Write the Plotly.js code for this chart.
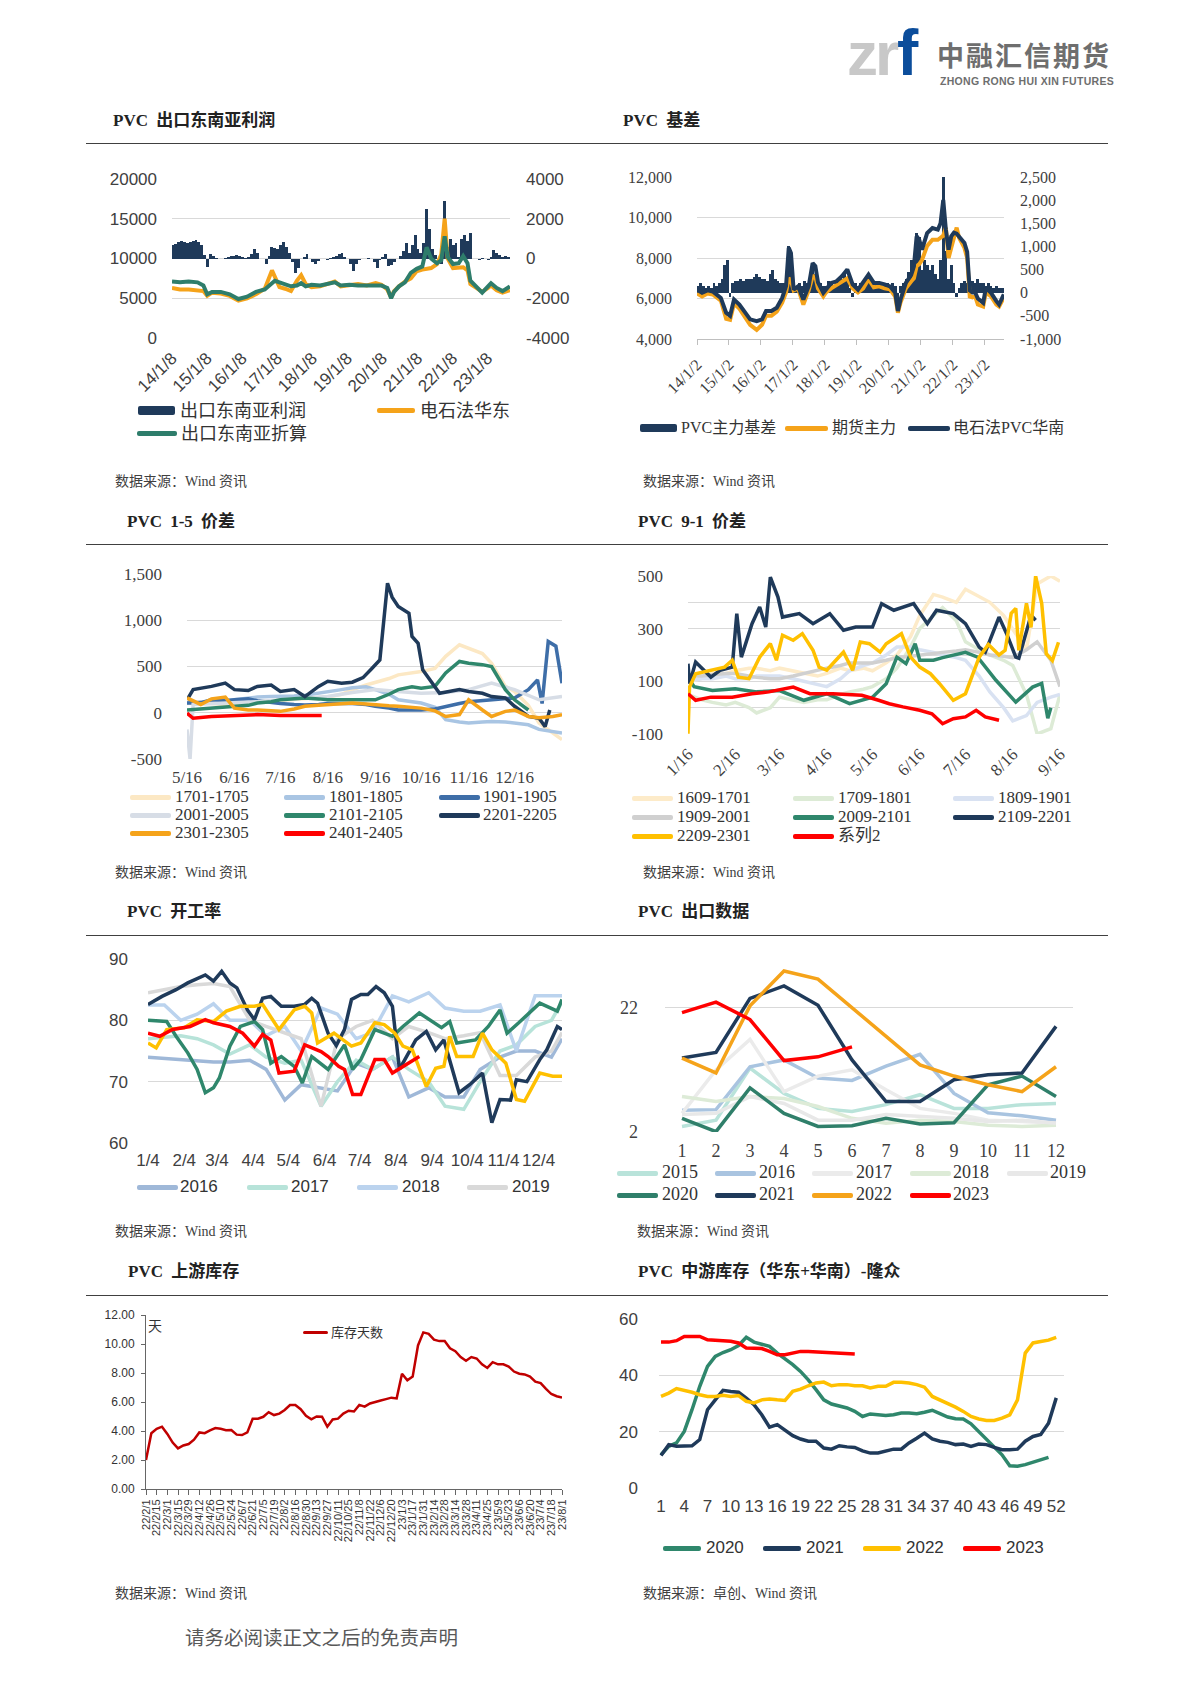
<!DOCTYPE html>
<html><head><meta charset="utf-8">
<script src="https://cdn.plot.ly/plotly-3.0.1.min.js"></script>
<style>
body{margin:0;background:#fff;}
#page{position:relative;width:1190px;height:1683px;overflow:hidden;background:#fff;}
.t{position:absolute;white-space:nowrap;}
.title{font-family:"Liberation Serif","Noto Sans CJK SC",serif;font-weight:bold;font-size:17px;color:#222;line-height:20px;word-spacing:4px;}
.src{font-family:"Liberation Serif","Noto Sans CJK SC",serif;font-size:14px;color:#404040;line-height:18px;}
.rule{position:absolute;left:86px;width:1022px;height:0;border-top:1.5px solid #404040;}
.chart{position:absolute;z-index:1;}
.lg{position:absolute;white-space:nowrap;color:#333;z-index:2;}
.sw{position:absolute;border-radius:2px;z-index:2;}
</style></head>
<body><div id="page">
<div class="t" style="left:847px;top:19px;font-family:'Liberation Sans',sans-serif;font-weight:bold;font-size:62px;line-height:70px;color:#C8C8C8;letter-spacing:-3px;">zr</div>
<div class="t" style="left:897px;top:18px;font-family:'Liberation Sans',sans-serif;font-weight:bold;font-size:64px;line-height:70px;color:#0B4D9B;">f</div>
<div class="t" style="left:937px;top:40px;font-family:'Noto Sans CJK SC',sans-serif;font-weight:bold;font-size:27px;line-height:30px;color:#6E6E6E;letter-spacing:2px;">中融汇信期货</div>
<div class="t" style="left:940px;top:75px;font-family:'Liberation Sans',sans-serif;font-weight:bold;font-size:10.5px;line-height:13px;color:#6E6E6E;letter-spacing:0.3px;">ZHONG RONG HUI XIN FUTURES</div>

<div class="t title" style="left:113px;top:111px;">PVC 出口东南亚利润</div>
<div class="t title" style="left:623px;top:111px;">PVC 基差</div>
<div class="rule" style="top:143px;"></div>
<div class="t src" style="left:115px;top:473px;">数据来源：Wind 资讯</div>
<div class="t src" style="left:643px;top:473px;">数据来源：Wind 资讯</div>

<div class="t title" style="left:127px;top:512px;">PVC 1-5 价差</div>
<div class="t title" style="left:638px;top:512px;">PVC 9-1 价差</div>
<div class="rule" style="top:544px;"></div>
<div class="t src" style="left:115px;top:864px;">数据来源：Wind 资讯</div>
<div class="t src" style="left:643px;top:864px;">数据来源：Wind 资讯</div>

<div class="t title" style="left:127px;top:902px;">PVC 开工率</div>
<div class="t title" style="left:638px;top:902px;">PVC 出口数据</div>
<div class="rule" style="top:935px;"></div>
<div class="t src" style="left:115px;top:1223px;">数据来源：Wind 资讯</div>
<div class="t src" style="left:637px;top:1223px;">数据来源：Wind 资讯</div>

<div class="t title" style="left:128px;top:1262px;">PVC 上游库存</div>
<div class="t title" style="left:638px;top:1262px;">PVC 中游库存（华东+华南）-隆众</div>
<div class="rule" style="top:1295px;"></div>
<div class="t src" style="left:115px;top:1585px;">数据来源：Wind 资讯</div>
<div class="t src" style="left:643px;top:1585px;">数据来源：卓创、Wind 资讯</div>

<div class="t" style="left:185px;top:1627px;font-family:'Liberation Serif','Noto Sans CJK SC',serif;font-size:19.5px;line-height:24px;color:#595959;">请务必阅读正文之后的免责声明</div>

<div id="c1" class="chart" style="left:87px;top:150px;width:513px;height:330px;"></div>
<div id="c2" class="chart" style="left:600px;top:150px;width:515px;height:330px;"></div>
<div id="c3" class="chart" style="left:87px;top:550px;width:513px;height:325px;"></div>
<div id="c4" class="chart" style="left:600px;top:550px;width:515px;height:325px;"></div>
<div id="c5" class="chart" style="left:87px;top:945px;width:513px;height:285px;"></div>
<div id="c6" class="chart" style="left:600px;top:945px;width:515px;height:285px;"></div>
<div id="c7" class="chart" style="left:87px;top:1300px;width:513px;height:280px;"></div>
<div id="c8" class="chart" style="left:600px;top:1300px;width:515px;height:280px;"></div>
</div>
<script>
const SANS='"Liberation Sans","Noto Sans CJK SC",sans-serif';
const SERIF='"Liberation Serif","Noto Sans CJK SC",serif';
const CJK='"Noto Sans CJK SC","Liberation Sans",sans-serif';
const TXT='#404040', GRID='#D9D9D9';
const NAVY='#1F3A5A', GREEN='#2E7D6B', GREEN2='#2F876C', ORANGE='#F5A31A', GOLD='#FFC000', RED='#FF0000', DKRED='#C00000';

// ---------- Chart 1: PVC 出口东南亚利润 ----------
const c1Dates=['2014-01-08','2014-04-01','2014-07-01','2014-10-01','2014-12-01','2015-01-10','2015-03-01','2015-06-01','2015-09-01','2015-12-01','2016-03-01','2016-06-01','2016-09-01','2016-11-15','2016-12-15','2017-02-01','2017-04-01','2017-06-01','2017-08-01','2017-09-15','2017-11-01','2018-01-01','2018-04-01','2018-07-01','2018-09-01','2018-11-01','2019-02-01','2019-05-01','2019-08-01','2019-11-01','2020-01-01','2020-03-01','2020-04-10','2020-05-10','2020-07-01','2020-09-01','2020-11-01','2021-01-01','2021-03-01','2021-04-15','2021-06-01','2021-08-01','2021-09-15','2021-10-20','2021-11-20','2022-01-15','2022-03-15','2022-05-01','2022-06-15','2022-07-15','2022-09-15','2022-11-15','2023-01-15','2023-02-15','2023-04-15','2023-06-15','2023-08-31'];
const c1Export=[7100,7000,7100,7000,6600,5500,5800,5800,5500,4900,5200,5800,6100,6900,7200,7000,6800,6500,6600,6900,6500,6700,6600,6900,7000,6600,6700,6600,6600,6700,6600,6300,5000,5800,6500,7000,8200,8700,9000,11400,10000,9400,9800,12800,10200,9300,9400,10300,9400,7200,6500,5700,6500,6900,6300,5900,6500];
const c1EastCarbide=[6300,6100,6100,6050,5900,5300,5700,5600,5300,4700,5000,5500,6200,8500,7600,6400,6200,5900,7200,7900,6800,6400,6500,6900,7100,6500,6600,6800,6600,6900,6700,6100,5100,5900,6500,7100,7500,8400,8600,8700,8800,9300,10500,15000,10000,8800,8800,8900,8500,6800,6300,5800,6300,6600,6000,5700,6000];
// monthly profit, 2014-01 .. 2023-09
const c1Profit=[700,750,850,900,850,800,850,900,950,850,700,200,
 -450,250,150,50,0,0,50,100,150,150,200,150,
 100,50,100,250,500,300,0,-50,-300,150,600,550,
 500,700,850,600,300,-200,-750,-500,0,100,250,0,
 -200,-300,-150,0,0,-100,50,100,150,250,300,100,
 0,-300,-650,-300,-100,0,0,50,0,-200,-500,-100,
 100,250,-400,-350,-200,0,150,400,800,300,700,1200,
 500,300,800,2500,1500,500,200,0,-300,2900,600,1000,
 700,800,100,1000,1200,900,1300,0,-50,-100,50,0,
 -100,100,450,300,200,100,150,100,150];
const c1TickVals=['2014-01-08','2015-01-08','2016-01-08','2017-01-08','2018-01-08','2019-01-08','2020-01-08','2021-01-08','2022-01-08','2023-01-08'];
const c1TickText=['14/1/8','15/1/8','16/1/8','17/1/8','18/1/8','19/1/8','20/1/8','21/1/8','22/1/8','23/1/8'];
const c1LeftTicks=[0,5000,10000,15000,20000];
const c1RightTicks=[-4000,-2000,0,2000,4000];

// ---------- Chart 2: PVC 基差 ----------
const c2Dates=['2014-01-02','2014-03-01','2014-05-01','2014-07-01','2014-10-01','2014-12-01','2015-01-15','2015-03-01','2015-05-01','2015-07-01','2015-09-01','2015-11-15','2016-01-15','2016-03-01','2016-05-01','2016-07-01','2016-09-01','2016-10-15','2016-11-15','2016-12-10','2017-01-10','2017-03-01','2017-05-01','2017-07-01','2017-08-15','2017-09-15','2017-10-15','2017-12-15','2018-01-15','2018-03-15','2018-05-15','2018-07-15','2018-09-15','2018-11-15','2019-01-15','2019-03-15','2019-05-15','2019-07-15','2019-09-15','2019-11-15','2020-01-15','2020-03-15','2020-04-15','2020-05-15','2020-07-15','2020-09-15','2020-10-15','2020-11-15','2020-12-15','2021-01-15','2021-03-15','2021-05-15','2021-07-15','2021-08-15','2021-09-15','2021-10-15','2021-11-15','2021-12-15','2022-01-15','2022-02-15','2022-03-15','2022-04-15','2022-05-15','2022-06-15','2022-07-15','2022-08-15','2022-09-15','2022-10-15','2022-12-15','2023-01-15','2023-03-15','2023-05-15','2023-06-15','2023-08-08'];
const c2SouthSpot=[6440,6280,6400,6350,6030,5300,5150,5950,5700,5300,4970,4880,4970,5380,5380,5540,6030,6610,8500,8250,6440,6600,5950,6610,7750,7600,6800,6280,6440,6770,6850,7100,7430,6700,6440,6770,7180,6770,6770,6700,6600,6280,5380,5950,6770,7180,7590,9070,8900,8410,9230,9480,9400,9720,10870,9400,8410,9070,9250,9200,9070,8900,8740,8300,6400,6300,6300,6000,5790,6520,6280,5870,5700,6200];
const c2Futures=[6250,6100,6250,6200,5900,5000,4950,5750,5500,5100,4700,4450,4700,5150,5150,5350,5800,6300,7000,6900,6400,6500,5700,6400,7100,7100,6500,6100,6300,6500,6650,6800,7000,6500,6300,6500,6950,6550,6600,6500,6450,6100,5300,5800,6500,6850,7000,7600,7700,7900,8600,8900,8900,9000,9100,9500,8000,8500,9000,9500,9000,8700,8500,8000,6100,6050,6100,5700,5600,6300,6100,5700,5600,6050];
// monthly basis, 2014-01 .. 2023-08
const c2Basis=[150,200,150,100,150,100,200,150,200,300,600,700,
 -100,200,250,250,300,250,300,300,300,350,400,350,
 300,300,250,400,500,300,250,200,200,300,1000,800,
 100,150,200,150,250,200,300,600,400,300,200,150,
 150,250,200,150,250,300,300,400,350,100,-100,200,
 150,200,250,200,250,200,150,200,200,150,150,200,
 150,200,150,-150,150,200,300,450,700,600,1300,1200,
 500,700,600,500,600,400,300,700,2500,900,300,600,
 200,-100,100,200,250,200,300,250,200,300,200,200,
 150,200,150,100,150,100,100,100];
const c2TickVals=['2014-01-02','2015-01-02','2016-01-02','2017-01-02','2018-01-02','2019-01-02','2020-01-02','2021-01-02','2022-01-02','2023-01-02'];
const c2TickText=['14/1/2','15/1/2','16/1/2','17/1/2','18/1/2','19/1/2','20/1/2','21/1/2','22/1/2','23/1/2'];
const c2LeftTicks=[4000,6000,8000,10000,12000];
const c2LeftText=['4,000','6,000','8,000','10,000','12,000'];
const c2RightTicks=[-1000,-500,0,500,1000,1500,2000,2500];
const c2RightText=['-1,000','-500','0','500','1,000','1,500','2,000','2,500'];

// ---------- Chart 3: PVC 1-5 价差 ----------
const c3X=['5/16','5/25','6/1','6/10','6/16','6/25','7/1','7/10','7/16','7/25','8/1','8/10','8/16','8/25','9/1','9/10','9/16','9/25','10/1','10/10','10/16','10/25','11/1','11/10','11/16','11/25','12/1','12/10','12/16','12/25','1/1','1/10','1/16'];
const c3S1701=[100,110,100,90,100,110,120,130,140,150,150,160,170,200,250,300,330,370,410,430,445,480,610,735,700,640,535,285,230,80,-110,-220,-290];
const c3S1801=[105,110,120,130,140,160,170,175,175,180,190,210,230,250,270,280,250,200,140,120,105,60,-75,-100,-110,-100,-95,-100,-110,-130,-180,-200,-220];
const c3X1901=['5/16','5/25','6/1','6/10','6/16','6/25','7/1','7/10','7/16','7/25','8/1','8/10','8/16','8/25','9/1','9/10','9/16','9/25','10/1','10/10','10/16','10/25','11/1','11/10','11/16','11/25','12/1','12/10','12/16','12/25','12/31','1/3','1/7','1/12','1/16'];
const c3S1901=[105,110,140,130,140,150,130,110,100,90,85,90,100,100,100,90,70,50,30,30,30,40,70,100,120,130,140,150,160,250,355,100,770,720,320];
const c3X2001=['5/16','5/18','5/20','6/1','6/16','7/1','7/16','8/1','8/16','9/1','9/16','10/1','10/16','11/1','11/16','12/1','12/16','1/1','1/16'];
const c3S2001=[-180,-500,90,100,105,120,140,160,175,220,250,230,210,220,250,320,250,140,175];
const c3S2101=[30,40,50,60,70,80,105,120,140,150,160,150,140,140,140,140,140,200,250,280,265,285,430,555,535,520,500,250,140,30];
const c3X2201=['5/16','5/20','6/1','6/10','6/16','6/25','7/1','7/10','7/16','7/25','8/1','8/10','8/16','8/25','9/1','9/8','9/13','9/19','9/24','9/27','10/1','10/8','10/10','10/14','10/17','10/22','10/28','11/10','11/16','11/25','12/1','12/10','12/16','12/25','1/1','1/5','1/8'];
const c3S2201=[140,250,285,320,250,240,285,300,230,250,175,285,340,320,330,380,465,570,1400,1250,1150,1075,825,750,465,355,210,250,230,210,175,160,70,-40,-60,-150,30];
const c3S2301=[160,90,150,170,50,30,30,20,15,40,70,80,85,95,105,95,85,75,70,60,50,20,-40,-20,140,30,-40,15,30,-40,-55,-40,-20];
const c3X2401=['5/16','5/20','6/1','6/16','7/1','7/16','8/1','8/12'];
const c3S2401=[-5,-60,-40,-30,-20,-30,-30,-30];
const c3Names=['1701-1705','1801-1805','1901-1905','2001-2005','2101-2105','2201-2205','2301-2305','2401-2405'];
const c3Colors=['#FCE8C4','#A9C5E3','#3E6EA8','#D7DDE6','#2F876C','#1F3A5A','#F5A31A','#FF0000'];
const c3TickText=['5/16','6/16','7/16','8/16','9/16','10/16','11/16','12/16'];
const c3YTicks=[-500,0,500,1000,1500], c3YText=['-500','0','500','1,000','1,500'];

// ---------- Chart 4: PVC 9-1 价差 ----------
const c4X=['1/16','1/25','2/1','2/10','2/16','2/25','3/1','3/10','3/16','3/25','4/1','4/10','4/16','4/25','5/1','5/10','5/16','5/25','6/1','6/10','6/16','6/25','7/1','7/10','7/16','7/25','8/1','8/10','8/16','8/25','9/1','9/10','9/16'];
const c4S1609=[100,110,130,130,140,150,150,140,150,140,130,120,130,150,140,150,140,170,200,270,350,430,420,400,450,420,400,350,300,220,470,500,480];
const c4S1709=[50,30,20,10,20,0,-20,0,40,30,20,30,30,50,60,70,80,110,150,230,300,350,380,330,250,220,200,180,160,50,-100,-80,50];
const c4S1809=[100,110,110,120,110,110,120,120,120,110,100,90,80,110,140,160,170,200,230,230,220,210,200,190,180,120,60,0,-50,-30,20,40,50];
const c4S1909=[120,120,125,130,130,120,115,110,110,120,130,140,150,160,170,170,170,180,190,195,200,205,210,215,220,210,200,195,190,220,250,180,80];
const c4X2009=['1/16','1/20','2/1','2/16','3/1','3/16','4/1','4/16','5/1','5/16','5/25','6/1','6/7','6/13','6/16','6/25','7/1','7/16','7/24','8/5','8/18','8/29','9/4','9/8','9/10'];
const c4S2009=[115,80,65,72,60,65,28,53,15,40,91,192,167,243,180,180,190,210,192,104,21,78,92,-40,0];
const c4X2109=['1/16','1/17','1/21','1/31','2/6','2/14','2/17','2/20','2/27','3/3','3/7','3/10','3/15','3/18','3/29','4/7','4/18','4/27','5/5','5/16','5/22','5/30','6/12','6/21','6/27','7/8','7/16','7/25','7/29','8/7','8/12','8/18','8/20','8/25','8/28','8/31'];
const c4S2109=[167,91,173,116,142,154,357,192,319,382,306,496,420,344,357,319,357,294,306,306,395,370,395,319,370,357,319,230,211,344,281,192,188,294,351,332];
const c4X2209=['1/16','1/17','1/21','2/1','2/9','2/14','2/18','2/25','3/3','3/10','3/14','3/18','3/25','3/31','4/7','4/11','4/16','4/22','4/27','5/3','5/8','5/14','5/21','5/25','6/4','6/10','6/16','6/23','6/29','7/8','7/16','7/25','7/31','8/7','8/11','8/15','8/18','8/20','8/25','8/28','8/31','9/4','9/7','9/11','9/15'];
const c4S2209=[-99,78,129,142,154,180,116,110,192,243,180,275,256,281,218,154,142,180,211,142,249,243,211,243,281,192,154,129,91,28,53,192,240,200,218,358,377,218,396,305,500,396,205,179,248];
const c4XSeries2=['1/16','1/21','1/31','2/14','2/27','3/9','3/25','4/5','4/20','5/9','5/20','5/27','6/5','6/16','6/24','7/1','7/8','7/16','7/23','7/29','8/7'];
const c4SSeries2=[53,28,40,40,53,60,78,53,53,47,28,15,3,-10,-23,-61,-42,-35,-10,-35,-48];
const c4Names=['1609-1701','1709-1801','1809-1901','1909-2001','2009-2101','2109-2201','2209-2301','系列2'];
const c4Colors=['#FDEBC9','#DDEBD6','#D9E2F2','#D0D0D0','#2F876C','#1F3A5A','#FFC000','#FF0000'];
const c4TickText=['1/16','2/16','3/16','4/16','5/16','6/16','7/16','8/16','9/16'];
const c4YTicks=[-100,0,100,200,300,400,500], c4YText=['-100','','100','','300','','500'];

// ---------- Chart 5: PVC 开工率 ----------
const c5XLight=['1/4','1/18','2/1','2/15','3/1','3/15','4/1','4/15','5/1','5/15','6/1','6/15','7/1','7/15','8/1','8/15','9/1','9/15','10/1','10/15','11/1','11/15','12/1','12/15','12/24'];
const c5S2016=[74,73.8,73.5,73.3,73.2,73.2,73.5,72,67,69.5,69,68.5,73,72,74,67.5,69,67.5,67.5,72,74,75,75,74,77];
const c5S2017=[77,77.2,77.5,77,76,74.5,76,74,73,73.5,66,70,73.5,72,74,72,70,66,65.5,70,75,76,79,80,83];
const c5S2018=[82.5,82.5,80,81,82.7,80,80,77.5,79,75,82,81,77,78,84,83,84.5,82,81.5,81.5,82.5,75,84,84,84];
const c5S2019=[84.5,85,85.5,85.8,86,85.5,80,79,78,77,66,77,79,80,77,79,78,77,77.5,78,71,71,74,75,78];
const c5X2020=['1/4','1/20','1/28','2/7','2/15','2/22','3/1','3/6','3/15','3/24','4/5','4/12','4/19','4/28','5/9','5/16','5/24','6/7','6/21','6/28','7/5','7/17','8/1','8/10','8/24','9/4','9/12','9/19','9/25','10/11','10/22','11/1','11/7','11/17','12/5','12/20','12/24'];
const c5S2020=[80.0,79.8,77.4,74.7,72.0,68.2,69.0,70.6,75.8,79.0,79.8,78.5,73.0,74.1,72.5,69.8,74.1,72.0,76.0,72.0,73.6,78.5,77.4,79.0,81.2,79.8,78.8,79.8,76.3,76.8,79.0,81.7,77.9,79.6,82.8,81.5,83.4];
const c5X2021=['1/4','1/16','1/28','2/7','2/22','3/1','3/8','3/15','3/21','3/30','4/5','4/12','4/19','4/28','5/9','5/18','5/24','5/29','6/7','6/14','6/21','6/27','7/5','7/11','7/18','7/25','8/1','8/7','8/21','8/30','9/7','9/14','9/27','10/6','10/17','10/25','11/1','11/10','11/15','11/24','12/5','12/11','12/20','12/24'];
const c5S2021=[82.6,83.9,85.0,86.1,87.4,86.4,88.0,86.1,85.3,81.7,80.1,83.6,83.9,82.3,82.3,82.6,83.6,82.8,77.9,75.9,78.5,83.4,84.2,84.2,85.5,84.5,82.3,72.0,76.8,78.2,75.2,76.8,68.2,69.5,71.4,63.3,67.1,67.0,70.3,70.0,73.6,75.2,79.0,78.5];
const c5X2022=['1/4','1/11','1/20','2/4','2/15','3/1','3/12','3/24','4/5','4/12','4/26','5/9','5/18','5/24','5/29','6/12','6/27','7/5','7/17','7/25','8/3','8/10','8/18','8/30','9/7','9/14','9/19','9/25','10/9','10/17','10/25','11/6','11/15','11/22','12/5','12/16','12/24'];
const c5S2022=[76.3,75.5,78.5,78.8,80.1,79.8,81.5,82.3,82.3,82.6,78.5,81.7,82.3,81.2,76.3,77.9,75.8,76.3,79.6,79.3,77.9,75.8,75.2,69.2,72.2,72.5,77.4,74.1,74.1,77.9,75.2,73.0,67.1,66.8,71.4,70.9,70.9];
const c5X2023=['1/4','1/14','1/25','2/9','2/22','3/1','3/15','3/26','4/5','4/12','4/19','4/26','5/9','5/18','6/1','6/7','6/16','6/21','6/28','7/5','7/17','7/25','8/1','8/10','8/24'];
const c5S2023=[77.9,77.4,78.5,79.0,80.1,79.6,79.0,77.9,75.8,77.7,76.8,71.4,71.7,76.0,74.9,74.1,72.5,72.0,67.9,67.9,73.6,73.6,71.4,72.5,74.1];
const c5TickText=['1/4','2/4','3/4','4/4','5/4','6/4','7/4','8/4','9/4','10/4','11/4','12/4'];
const c5LegendNames=['2016','2017','2018','2019'];

// ---------- Chart 6: PVC 出口数据 ----------
const c6Months=[1,2,3,4,5,6,7,8,9,10,11,12];
const c6S2015=[2.9,3.9,12.3,8.2,5.8,5.3,6.4,8.0,5.8,5.8,6.4,6.6];
const c6S2016=[5.5,5.6,12.5,13.6,10.7,10.3,12.6,14.5,8.2,5.1,4.6,3.9];
const c6S2017=[5.0,12.0,16.9,8.5,11.0,12.0,8.8,5.8,5.0,3.9,3.7,3.4];
const c6S2018=[7.7,6.9,7.7,7.4,6.1,4.2,3.4,3.9,3.7,3.1,2.9,3.1];
const c6S2019=[4.8,5.0,7.7,6.6,3.9,3.9,4.8,4.5,4.2,3.7,3.9,3.4];
const c6S2020=[4.2,2.05,9.1,5.0,2.9,3.0,4.2,3.3,3.5,9.6,11.0,7.7];
const c6S2021=[13.9,14.8,23.5,25.5,22.4,13.6,6.9,6.9,10.4,11.2,11.5,19.0];
const c6S2022=[13.9,11.5,22.3,27.9,26.6,22.0,17.4,12.8,11.0,9.6,8.5,12.5];
const c6S2023=[21.2,22.9,20.1,13.5,14.1,15.7];
const c6Names=['2015','2016','2017','2018','2019','2020','2021','2022','2023'];
const c6Colors=['#B9E3DA','#A9C4E0','#EBEBEB','#DDEBD7','#E8E8E8','#2F7F6A','#1F3A5A','#F5A31A','#FF0000'];

// ---------- Chart 7: PVC 上游库存 ----------
const c7Days=[2.0,3.85,4.15,4.3,3.8,3.2,2.8,3.0,3.1,3.4,3.9,3.85,4.05,4.2,4.15,4.05,4.07,3.75,3.72,3.9,4.85,4.85,4.98,5.3,5.1,5.2,5.45,5.79,5.79,5.5,5.05,4.8,5.0,4.99,4.3,4.8,4.85,5.2,5.4,5.35,5.8,5.68,5.9,5.98,6.1,6.2,6.3,6.25,7.95,7.5,7.75,9.9,10.8,10.7,10.3,10.2,10.2,9.7,9.5,9.1,8.85,9.1,9.0,8.6,8.35,8.75,8.6,8.6,8.45,8.1,7.95,7.9,7.75,7.4,7.3,6.9,6.55,6.4,6.3];
const c7TickText=['22/2/1','22/2/15','22/3/1','22/3/15','22/3/29','22/4/12','22/4/26','22/5/10','22/5/24','22/6/7','22/6/21','22/7/5','22/7/19','22/8/2','22/8/16','22/8/30','22/9/13','22/9/27','22/10/11','22/10/25','22/11/8','22/11/22','22/12/6','22/12/20','23/1/3','23/1/17','23/1/31','23/2/14','23/2/28','23/3/14','23/3/28','23/4/11','23/4/25','23/5/9','23/5/23','23/6/6','23/6/20','23/7/4','23/7/18','23/8/1'];
const c7YTicks=[0,2,4,6,8,10,12];

// ---------- Chart 8: PVC 中游库存 ----------
const c8S2020=[11.8,14.8,16.0,20.1,27.8,36.1,43.2,46.7,48.1,49.1,50.6,53.5,51.8,51.2,50.3,47.9,45.9,43.8,41.4,38.4,34.9,31.3,29.8,29.0,28.4,27.2,25.4,26.3,26.0,25.7,26.0,26.6,26.6,26.4,26.9,27.6,26.4,25.2,24.6,24.5,22.8,20.1,17.4,14.8,11.8,7.9,7.7,8.3,9.1,9.9,10.9];
const c8S2021=[11.5,15.4,14.8,14.8,15.0,17.2,27.8,31.3,34.7,34.3,34.0,31.9,29.6,26.0,21.6,22.5,20.7,18.6,17.4,16.6,16.6,14.2,13.8,15.0,14.6,14.4,13.2,12.4,12.4,13.0,13.8,13.8,16.0,17.7,19.5,17.4,16.6,16.2,15.4,15.6,14.8,15.6,15.4,14.4,13.6,13.6,13.8,16.6,18.3,19.0,23.0,32.0];
const c8S2022=[32.5,33.7,35.3,34.7,34.0,33.1,32.5,32.5,32.9,32.5,32.8,30.8,30.2,31.3,31.6,31.3,31.1,34.3,35.1,36.3,37.3,37.6,36.3,36.7,36.7,36.3,36.3,35.5,36.1,36.1,37.5,37.5,37.3,36.7,35.8,32.5,31.3,30.2,28.7,27.2,25.4,24.5,24.0,24.0,24.8,26.0,31.3,47.9,51.5,52.0,52.5,53.5];
const c8S2023=[51.8,51.8,52.3,53.8,53.8,53.8,52.6,52.3,52.3,52.1,51.5,49.7,49.5,49.5,48.5,47.3,47.3,47.9,48.5,48.5,48.4,48.3,48.0,48.0,47.9,47.6];
const c8Names=['2020','2021','2022','2023'];
const c8Colors=['#2F876C','#1F3A5A','#FFC000','#FF0000'];
const c8TickVals=[1,4,7,10,13,16,19,22,25,28,31,34,37,40,43,46,49,52];

// ---------- helpers ----------
function md(list, yr){return list.map(s=>{const p=s.split('/');const m=+p[0],d=+p[1];const y=(typeof yr==='function')?yr(m):yr;return y+'-'+String(m).padStart(2,'0')+'-'+String(d).padStart(2,'0');});}
function monthly(startYear, n){const out=[];for(let i=0;i<n;i++){const y=startYear+Math.floor(i/12),m=i%12+1;out.push(y+'-'+String(m).padStart(2,'0')+'-15');}return out;}
function idx(n,start){return Array.from({length:n},(_,i)=>i+(start||0));}
function base(w,h,m){return {width:w,height:h,margin:m,showlegend:false,paper_bgcolor:'rgba(0,0,0,0)',plot_bgcolor:'rgba(0,0,0,0)'};}
const CFG={staticPlot:true,displayModeBar:false};
const page=document.getElementById('page');
function legend(items){
  items.forEach(it=>{
    const s=document.createElement('div');s.className='sw';
    s.style.cssText='left:'+it.sx+'px;top:'+(it.y-it.sh/2)+'px;width:'+it.sw+'px;height:'+it.sh+'px;background:'+it.color+';';
    page.appendChild(s);
    const t=document.createElement('div');t.className='lg';t.textContent=it.name;
    t.style.cssText='left:'+it.tx+'px;top:'+(it.y-it.size*0.65)+'px;font-family:'+it.font+';font-size:'+it.size+'px;line-height:'+(it.size*1.3)+'px;';
    page.appendChild(t);
  });
}
function line(x,y,color,w,name,extra){return Object.assign({type:'scatter',mode:'lines',x:x,y:y,name:name,line:{color:color,width:w||3.5}},extra||{});}

// ---------- draw chart 1 ----------
(function(){
  const tf={family:SANS,size:17,color:TXT};
  Plotly.newPlot('c1',[
    {type:'bar',x:monthly(2014,c1Profit.length),y:c1Profit,width:31*864e5,marker:{color:NAVY,line:{width:0}},name:'出口东南亚利润',yaxis:'y'},
    line(c1Dates,c1EastCarbide,ORANGE,4,'电石法华东',{yaxis:'y2'}),
    line(c1Dates,c1Export,GREEN,4,'出口东南亚折算',{yaxis:'y2'})
  ],Object.assign(base(513,330,{l:85,r:90,t:29,b:142}),{
    bargap:0,
    xaxis:{type:'date',range:['2014-01-08','2023-09-01'],tickvals:c1TickVals,ticktext:c1TickText,tickangle:-45,showgrid:false,zeroline:false,ticks:'',tickfont:tf,ticklabelstandoff:6},
    yaxis:{side:'right',range:[-4000,4000],tickvals:c1RightTicks,ticktext:c1RightTicks.map(String),showgrid:false,zeroline:false,tickfont:tf,ticklabelstandoff:15},
    yaxis2:{overlaying:'y',side:'left',range:[0,20000],tickvals:c1LeftTicks,ticktext:c1LeftTicks.map(String),showgrid:true,gridcolor:GRID,zeroline:false,tickfont:tf,ticklabelstandoff:14}
  }),CFG);
  legend([
    {name:'出口东南亚利润',color:NAVY,sx:138,sw:37,sh:9,y:410,tx:180,font:CJK,size:18},
    {name:'电石法华东',color:ORANGE,sx:377,sw:38,sh:5,y:410,tx:420,font:CJK,size:18},
    {name:'出口东南亚折算',color:GREEN,sx:137,sw:40,sh:5,y:433,tx:181,font:CJK,size:18}
  ]);
})();

// ---------- draw chart 2 ----------
(function(){
  const tf={family:SERIF,size:16,color:TXT};
  Plotly.newPlot('c2',[
    {type:'bar',x:monthly(2014,c2Basis.length),y:c2Basis,width:31*864e5,marker:{color:NAVY,line:{width:0}},name:'PVC主力基差',yaxis:'y'},
    line(c2Dates,c2Futures,ORANGE,4,'期货主力',{yaxis:'y2'}),
    line(c2Dates,c2SouthSpot,NAVY,4,'电石法PVC华南',{yaxis:'y2'})
  ],Object.assign(base(515,330,{l:97,r:111,t:27,b:141}),{
    bargap:0,
    xaxis:{type:'date',range:['2014-01-02','2023-08-10'],tickvals:c2TickVals,ticktext:c2TickText,tickangle:-45,showgrid:false,zeroline:false,showline:true,linecolor:'#BFBFBF',ticks:'outside',ticklen:5,tickcolor:'#BFBFBF',tickfont:tf,ticklabelstandoff:4},
    yaxis:{side:'right',range:[-1000,2500],tickvals:c2RightTicks,ticktext:c2RightText,showgrid:false,zeroline:false,tickfont:tf,ticklabelstandoff:15},
    yaxis2:{overlaying:'y',side:'left',range:[4000,12000],tickvals:c2LeftTicks,ticktext:c2LeftText,showgrid:true,gridcolor:GRID,zeroline:false,tickfont:tf,ticklabelstandoff:24}
  }),CFG);
  legend([
    {name:'PVC主力基差',color:NAVY,sx:640,sw:37,sh:8,y:428,tx:681,font:SERIF,size:16},
    {name:'期货主力',color:ORANGE,sx:785,sw:43,sh:5,y:428,tx:832,font:SERIF,size:16},
    {name:'电石法PVC华南',color:NAVY,sx:908,sw:42,sh:5,y:428,tx:953,font:SERIF,size:16}
  ]);
})();

// ---------- draw chart 3 ----------
(function(){
  const yr=m=>m>=5?2000:2001;
  const tf={family:SERIF,size:17,color:TXT};
  const xs=[c3X,c3X,c3X1901,c3X2001,c3X.slice(0,c3S2101.length),c3X2201,c3X,c3X2401];
  const ys=[c3S1701,c3S1801,c3S1901,c3S2001,c3S2101,c3S2201,c3S2301,c3S2401];
  const traces=ys.map((y,i)=>line(md(xs[i],yr),y,c3Colors[i],3.5,c3Names[i]));
  Plotly.newPlot('c3',traces,Object.assign(base(513,325,{l:100,r:38,t:24,b:116}),{
    xaxis:{type:'date',range:['2000-05-16','2001-01-16'],tickvals:md(c3TickText,yr),ticktext:c3TickText,tickangle:0,showgrid:false,zeroline:false,ticks:'',tickfont:tf,ticklabelstandoff:6},
    yaxis:{range:[-500,1500],tickvals:c3YTicks,ticktext:c3YText,showgrid:true,gridcolor:GRID,zeroline:false,tickfont:tf,ticklabelstandoff:24}
  }),CFG);
  const sx=[130,284,439],tx=[175,329,483],ry=[797,815,833];
  legend(c3Names.map((n,i)=>({name:n,color:c3Colors[i],sx:sx[i%3],sw:41,sh:5,y:ry[Math.floor(i/3)],tx:tx[i%3],font:SERIF,size:17})));
})();

// ---------- draw chart 4 ----------
(function(){
  const tf={family:SERIF,size:17,color:TXT};
  const xs=[c4X,c4X,c4X,c4X,c4X2009,c4X2109,c4X2209,c4XSeries2];
  const ys=[c4S1609,c4S1709,c4S1809,c4S1909,c4S2009,c4S2109,c4S2209,c4SSeries2];
  const traces=ys.map((y,i)=>line(md(xs[i],2000),y,c4Colors[i],3.5,c4Names[i]));
  Plotly.newPlot('c4',traces,Object.assign(base(515,325,{l:88,r:55,t:26,b:141}),{
    xaxis:{type:'date',range:['2000-01-16','2000-09-16'],tickvals:md(c4TickText,2000),ticktext:c4TickText,tickangle:-45,showgrid:false,zeroline:false,ticks:'',tickfont:tf,ticklabelstandoff:6},
    yaxis:{range:[-100,500],tickvals:c4YTicks,ticktext:c4YText,showgrid:true,gridcolor:GRID,zeroline:false,tickfont:tf,ticklabelstandoff:24}
  }),CFG);
  const sx=[632,793,953],tx=[677,838,998],ry=[798,817,836];
  legend(c4Names.map((n,i)=>({name:n,color:c4Colors[i],sx:sx[i%3],sw:41,sh:5,y:ry[Math.floor(i/3)],tx:tx[i%3],font:SERIF,size:17})));
})();

// ---------- draw chart 5 ----------
(function(){
  const tf={family:SANS,size:17,color:TXT};
  const lightCol=['#9FB8D8','#B7E3D9','#BBD3EE','#D9D9D9'];
  const xl=md(c5XLight,2001);
  const traces=[
    line(xl,c5S2016,lightCol[0],3.5,'2016'),
    line(xl,c5S2017,lightCol[1],3.5,'2017'),
    line(xl,c5S2018,lightCol[2],3.5,'2018'),
    line(xl,c5S2019,lightCol[3],3.5,'2019'),
    line(md(c5X2020,2001),c5S2020,GREEN2,3.5,'2020'),
    line(md(c5X2021,2001),c5S2021,NAVY,3.5,'2021'),
    line(md(c5X2022,2001),c5S2022,GOLD,3.5,'2022'),
    line(md(c5X2023,2001),c5S2023,RED,3.5,'2023')
  ];
  Plotly.newPlot('c5',traces,Object.assign(base(513,285,{l:61,r:38,t:14,b:87}),{
    xaxis:{type:'date',range:['2001-01-04','2001-12-24'],tickvals:md(c5TickText,2001),ticktext:c5TickText,tickangle:0,showgrid:false,zeroline:false,ticks:'',tickfont:tf,ticklabelstandoff:5},
    yaxis:{range:[60,90],tickvals:[60,70,80,90],ticktext:['60','70','80','90'],showgrid:true,gridcolor:GRID,zeroline:false,tickfont:tf,ticklabelstandoff:19}
  }),CFG);
  const sx=[137,247,357,467],tx=[180,291,402,512];
  legend(c5LegendNames.map((n,i)=>({name:n,color:lightCol[i],sx:sx[i],sw:41,sh:5,y:1187,tx:tx[i],font:SANS,size:17})));
})();

// ---------- draw chart 6 ----------
(function(){
  const tf={family:SERIF,size:18,color:TXT};
  const ys=[c6S2015,c6S2016,c6S2017,c6S2018,c6S2019,c6S2020,c6S2021,c6S2022,c6S2023];
  const traces=ys.map((y,i)=>line(c6Months.slice(0,y.length),y,c6Colors[i],3.5,c6Names[i]));
  Plotly.newPlot('c6',traces,Object.assign(base(515,285,{l:65,r:42,t:13,b:98}),{
    xaxis:{range:[0.5,12.5],tickvals:c6Months,ticktext:c6Months.map(String),tickangle:0,showgrid:false,zeroline:false,ticks:'',tickfont:tf,ticklabelstandoff:6},
    yaxis:{range:[2,30],tickvals:[2,22],ticktext:['2','22'],showgrid:true,gridcolor:GRID,zeroline:false,tickfont:tf,ticklabelstandoff:26}
  }),CFG);
  const sx=[617,715,812,910,1007],tx=[662,759,856,953,1050],ry=[1173,1195];
  legend(c6Names.map((n,i)=>({name:n,color:c6Colors[i],sx:sx[i%5],sw:41,sh:5,y:ry[Math.floor(i/5)],tx:tx[i%5],font:SERIF,size:18})));
})();

// ---------- draw chart 7 ----------
(function(){
  const tf={family:SANS,size:12,color:'#333'};
  Plotly.newPlot('c7',[line(idx(c7Days.length),c7Days,DKRED,2.5,'库存天数')],Object.assign(base(513,280,{l:59,r:38,t:15,b:91}),{
    xaxis:{range:[0,78],tickvals:c7TickText.map((_,i)=>i*2),ticktext:c7TickText,tickangle:-90,showgrid:false,zeroline:false,showline:true,linecolor:'#666',ticks:'outside',ticklen:5,tickcolor:'#666',tickfont:{family:SANS,size:11,color:'#333'}},
    yaxis:{range:[0,12],tickvals:c7YTicks,ticktext:c7YTicks.map(v=>v.toFixed(2)),showgrid:false,zeroline:false,showline:true,linecolor:'#666',ticks:'outside',ticklen:4,tickcolor:'#666',tickfont:tf,ticklabelstandoff:4},
    annotations:[{xref:'paper',yref:'paper',x:0,y:0.94,xanchor:'left',yanchor:'middle',text:'天',showarrow:false,font:{family:CJK,size:14,color:'#333'}}]
  }),CFG);
  legend([{name:'库存天数',color:DKRED,sx:303,sw:25,sh:3,y:1332,tx:331,font:CJK,size:13}]);
})();

// ---------- draw chart 8 ----------
(function(){
  const tf={family:SANS,size:17,color:TXT};
  const ys=[c8S2020,c8S2021,c8S2022,c8S2023];
  const traces=ys.map((y,i)=>line(idx(y.length,1),y,c8Colors[i],3.5,c8Names[i]));
  Plotly.newPlot('c8',traces,Object.assign(base(515,280,{l:59,r:51,t:19,b:92}),{
    xaxis:{range:[0.74,53],tickvals:c8TickVals,ticktext:c8TickVals.map(String),tickangle:0,showgrid:false,zeroline:false,ticks:'',tickfont:tf,ticklabelstandoff:6},
    yaxis:{range:[0,60],tickvals:[0,20,40,60],ticktext:['0','20','40','60'],showgrid:true,gridcolor:GRID,zeroline:false,tickfont:tf,ticklabelstandoff:20}
  }),CFG);
  const sx=[663,763,863,963],tx=[706,806,906,1006];
  legend(c8Names.map((n,i)=>({name:n,color:c8Colors[i],sx:sx[i],sw:38,sh:5,y:1548,tx:tx[i],font:SANS,size:17})));
})();
</script>
</body></html>
